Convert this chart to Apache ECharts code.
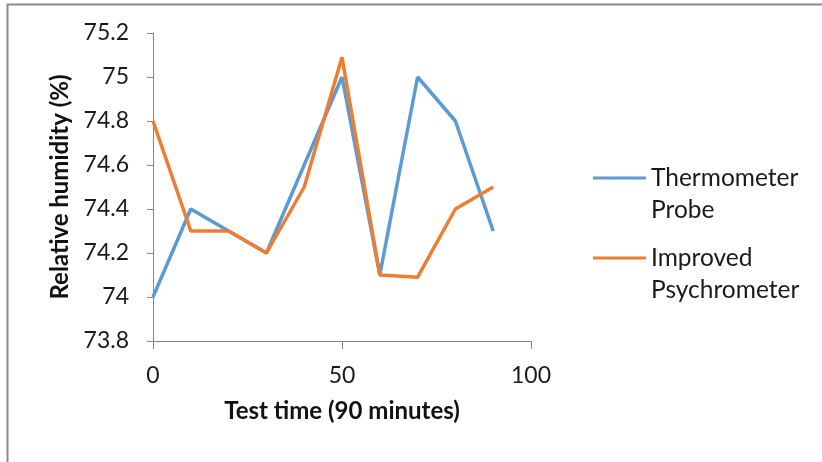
<!DOCTYPE html>
<html>
<head>
<meta charset="utf-8">
<script src="https://cdn.jsdelivr.net/npm/echarts@6/dist/echarts.min.js"></script>
<style>
  html, body { margin: 0; padding: 0; background: #fff; }
  #main { width: 822px; height: 462px; }
</style>
</head>
<body>
<div id="main"></div>
<script>
// test time, minutes
var times = [0, 10, 20, 30, 40, 50, 60, 70, 80, 90];
// relative humidity (%)
var probe = [74.0, 74.4, 74.3, 74.2, 74.6, 75.0, 74.1, 75.0, 74.8, 74.3];
var psychro = [74.8, 74.3, 74.3, 74.2, 74.5, 75.09, 74.1, 74.09, 74.4, 74.5];
var seriesNames = ['Thermometer Probe', 'Improved Psychrometer'];

var FONT = 'Lato';

function pairs(xs, ys) {
	var out = [];
	for (var i = 0; i < xs.length; i++) {
		out.push([xs[i], ys[i]]);
	}
	return out;
}

// one legend per series so the icon sits on the first text line
function legendFor(name, top) {
	return {
		data: [name],
		left: 588,
		top: top,
		icon: 'rect',
		itemWidth: 53,
		itemHeight: 3,
		selectedMode: false,
		formatter: function (n) {
			// blank first line keeps the icon level with the first word
			return ' \n' + n.replace(' ', '\n');
		},
		textStyle: {
			fontFamily: FONT,
			fontSize: 24.5,
			color: '#1a1a1a',
			lineHeight: 32
		}
	};
}

var chart = echarts.init(document.getElementById('main'));

var option = {
	animation: false,
	backgroundColor: '#fff',
	graphic: [{
		type: 'rect',
		shape: { x: 7.5, y: 4.5, width: 900, height: 600 },
		style: { fill: 'none', stroke: '#8a8a8a', lineWidth: 2 },
		silent: true
	}],
	grid: {
		left: 153,
		top: 33,
		width: 378,
		height: 308
	},
	legend: [legendFor(seriesNames[0], 125), legendFor(seriesNames[1], 205)],
	xAxis: {
		type: 'value',
		min: 0,
		max: 100,
		interval: 50,
		name: 'Test time (90 minutes)',
		nameLocation: 'middle',
		nameGap: 58,
		nameTextStyle: { fontFamily: FONT, fontSize: 24, fontWeight: 'bold', color: '#111' },
		axisLine: { lineStyle: { color: '#868686', width: 1 } },
		axisTick: { show: true, length: 8, lineStyle: { color: '#868686' } },
		axisLabel: { fontFamily: FONT, fontSize: 23, color: '#1a1a1a', margin: 23 },
		splitLine: { show: false }
	},
	yAxis: {
		type: 'value',
		min: 73.8,
		max: 75.2,
		interval: 0.2,
		name: 'Relative humidity (%)',
		nameLocation: 'middle',
		nameGap: 81,
		nameTextStyle: { fontFamily: FONT, fontSize: 24, fontWeight: 'bold', color: '#111' },
		axisLine: { show: true, lineStyle: { color: '#868686', width: 1 } },
		axisTick: { show: true, length: 6, lineStyle: { color: '#868686' } },
		axisLabel: { fontFamily: FONT, fontSize: 23, color: '#1a1a1a', margin: 24 },
		splitLine: { show: false }
	},
	series: [{
		name: seriesNames[0],
		type: 'line',
		data: pairs(times, probe),
		showSymbol: false,
		symbol: 'none',
		lineStyle: { color: '#5B9BD5', width: 3.5 },
		itemStyle: { color: '#5B9BD5' }
	}, {
		name: seriesNames[1],
		type: 'line',
		data: pairs(times, psychro),
		showSymbol: false,
		symbol: 'none',
		lineStyle: { color: '#ED7D31', width: 3.5 },
		itemStyle: { color: '#ED7D31' }
	}]
};

chart.setOption(option);
</script>
</body>
</html>
